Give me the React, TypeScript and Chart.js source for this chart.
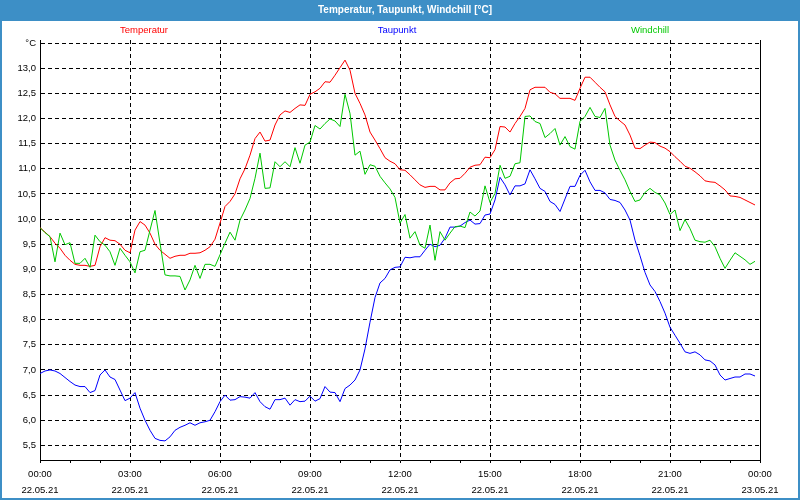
import React, { useEffect, useRef } from 'react';
import { Chart, registerables } from 'chart.js';

Chart.register(...registerables);

// ---- data (10-minute readings, 22.05.21 00:00 .. 23:50) ----
const intervalMinutes = 10;

const temperatur = [
  9.83, 9.74, 9.65, 9.52, 9.42, 9.28, 9.18, 9.10, 9.08, 9.08,
  9.06, 9.08, 9.45, 9.63, 9.58, 9.57, 9.50, 9.38, 9.33, 9.78,
  9.95, 9.88, 9.72, 9.50, 9.38, 9.30, 9.22, 9.26, 9.28, 9.28,
  9.32, 9.32, 9.33, 9.38, 9.45, 9.60, 9.92, 10.25, 10.35, 10.50,
  10.80, 11.00, 11.27, 11.60, 11.73, 11.55, 11.57, 11.87, 12.07, 12.15,
  12.12, 12.20, 12.27, 12.26, 12.48, 12.53, 12.60, 12.73, 12.72, 12.86,
  13.01, 13.16, 12.96, 12.50, 12.30, 12.07, 11.73, 11.57, 11.40, 11.22,
  11.15, 11.10, 10.98, 10.97, 10.88, 10.78, 10.68, 10.63, 10.65, 10.65,
  10.58, 10.58, 10.72, 10.80, 10.81, 10.91, 11.03, 11.07, 11.08, 11.23,
  11.22, 11.38, 11.84, 11.83, 11.73, 11.90, 12.04, 12.20, 12.57, 12.62,
  12.62, 12.62, 12.52, 12.49, 12.40, 12.40, 12.40, 12.36, 12.60, 12.82,
  12.82, 12.72, 12.62, 12.53, 12.27, 12.04, 11.95, 11.87, 11.67, 11.41,
  11.40, 11.47, 11.53, 11.52, 11.45, 11.41, 11.34, 11.24, 11.15, 11.05,
  11.01, 10.94, 10.86, 10.76, 10.74, 10.73, 10.66, 10.58, 10.46, 10.45,
  10.43, 10.38, 10.33, 10.28,
];

const taupunkt = [
  6.93, 6.98, 7.00, 6.98, 6.93, 6.85, 6.77, 6.70, 6.67, 6.67,
  6.55, 6.59, 6.90, 7.00, 6.86, 6.81, 6.60, 6.39, 6.44, 6.55,
  6.24, 6.00, 5.80, 5.64, 5.60, 5.59, 5.67, 5.80, 5.86, 5.90,
  5.95, 5.90, 5.95, 5.97, 6.00, 6.17, 6.37, 6.50, 6.40, 6.41,
  6.47, 6.46, 6.44, 6.55, 6.37, 6.27, 6.22, 6.41, 6.41, 6.44,
  6.30, 6.41, 6.37, 6.38, 6.48, 6.38, 6.43, 6.67, 6.56, 6.55,
  6.37, 6.63, 6.70, 6.80, 7.00, 7.42, 7.95, 8.44, 8.73, 8.82,
  8.99, 9.04, 9.05, 9.24, 9.23, 9.25, 9.25, 9.38, 9.50, 9.45,
  9.48, 9.62, 9.84, 9.84, 9.86, 9.93, 9.98, 9.90, 9.91, 10.08,
  10.10, 10.38, 10.83, 10.68, 10.48, 10.66, 10.66, 10.70, 10.98, 10.80,
  10.61, 10.55, 10.35, 10.29, 10.15, 10.40, 10.65, 10.65, 10.87, 10.97,
  10.74, 10.57, 10.57, 10.52, 10.39, 10.37, 10.33, 10.18, 9.98, 9.58,
  9.27, 8.94, 8.69, 8.56, 8.36, 8.13, 7.85, 7.69, 7.53, 7.36,
  7.33, 7.36, 7.30, 7.20, 7.18, 7.10, 6.90, 6.80, 6.83, 6.86,
  6.86, 6.92, 6.92, 6.88,
];

const windchill = [
  9.83, 9.73, 9.65, 9.15, 9.72, 9.49, 9.53, 9.12, 9.12, 9.22,
  9.04, 9.68, 9.55, 9.48, 9.35, 9.08, 9.42, 9.28, 9.15, 8.93,
  9.35, 9.38, 9.78, 10.17, 9.52, 8.89, 8.87, 8.87, 8.86, 8.59,
  8.79, 9.08, 8.82, 9.10, 9.10, 9.06, 9.29, 9.52, 9.74, 9.58,
  9.98, 10.18, 10.41, 10.81, 11.31, 10.61, 10.62, 11.14, 11.04, 11.14,
  11.04, 11.42, 11.11, 11.47, 11.53, 11.86, 11.79, 11.90, 11.99, 11.95,
  11.84, 12.48, 12.10, 11.27, 11.35, 10.89, 11.08, 11.05, 10.85, 10.72,
  10.60, 10.43, 9.92, 10.09, 9.62, 9.75, 9.48, 9.42, 9.88, 9.18,
  9.75, 9.58, 9.72, 9.85, 9.86, 9.83, 10.14, 10.06, 10.16, 10.66,
  10.33, 10.51, 11.07, 10.81, 10.85, 11.10, 11.12, 12.04, 12.05, 11.94,
  11.90, 11.62, 11.70, 11.80, 11.47, 11.64, 11.44, 11.39, 11.94, 12.04,
  12.22, 12.04, 12.02, 12.20, 11.47, 11.17, 10.97, 10.78, 10.55, 10.35,
  10.38, 10.53, 10.61, 10.53, 10.48, 10.32, 10.09, 10.18, 9.77, 9.99,
  9.81, 9.58, 9.55, 9.54, 9.58, 9.45, 9.22, 9.02, 9.18, 9.33,
  9.26, 9.19, 9.10, 9.16,
];

const seriesLabels = ['Temperatur', 'Taupunkt', 'Windchill'];
const titleText = 'Temperatur, Taupunkt, Windchill [°C]';

const yTickValues = [5.5, 6.0, 6.5, 7.0, 7.5, 8.0, 8.5, 9.0, 9.5, 10.0, 10.5, 11.0, 11.5, 12.0, 12.5, 13.0, 13.5];
const yUnitLabel = '°C';
const xHourTicks = [0, 1, 2, 3, 4, 5, 6, 7, 8, 9, 10, 11, 12, 13, 14, 15, 16, 17, 18, 19, 20, 21, 22, 23, 24];
const xTimeLabels = ['00:00', '03:00', '06:00', '09:00', '12:00', '15:00', '18:00', '21:00', '00:00'];
const xDateLabels = ['22.05.21', '22.05.21', '22.05.21', '22.05.21', '22.05.21', '22.05.21', '22.05.21', '22.05.21', '23.05.21'];

const FONT = '"Liberation Sans", Arial, sans-serif';
const BLUE = '#3d8fc6';
const COLORS = ['#ff0000', '#0000ff', '#00c800'];

export default function App() {
  const ref = useRef<HTMLCanvasElement>(null);

  useEffect(() => {
    const canvas = ref.current;
    if (!canvas) return;

    const toPoints = (arr: number[]) => arr.map((v, i) => ({ x: (i * intervalMinutes) / 60, y: v }));

    const framePlugin = {
      id: 'frame',
      beforeDraw(chart: any) {
        const { ctx, width, height } = chart;
        ctx.save();
        ctx.fillStyle = '#ffffff';
        ctx.fillRect(0, 0, width, height);
        ctx.fillStyle = BLUE;
        ctx.fillRect(0, 0, width, 21);
        ctx.fillRect(0, 0, 2, height);
        ctx.fillRect(width - 2, 0, 2, height);
        ctx.fillRect(0, height - 2, width, 2);
        ctx.fillStyle = '#ffffff';
        ctx.font = `bold 10px ${FONT}`;
        ctx.textAlign = 'center';
        ctx.textBaseline = 'middle';
        ctx.fillText(titleText, 405, 10);
        const legendX = [144, 397, 650];
        ctx.font = `9.5px ${FONT}`;
        chart.data.datasets.forEach((ds: any, i: number) => {
          ctx.fillStyle = ds.borderColor;
          ctx.fillText(ds.label, legendX[i], 30.5);
        });
        ctx.restore();
      },
      afterDraw(chart: any) {
        const { ctx, chartArea } = chart;
        ctx.save();
        ctx.strokeStyle = '#000';
        ctx.lineWidth = 1;
        ctx.beginPath();
        const x = Math.round(chartArea.right) + 0.5;
        ctx.moveTo(x, chartArea.top);
        ctx.lineTo(x, chartArea.bottom);
        ctx.stroke();
        ctx.restore();
      },
    };

    const tickFont = { family: FONT, size: 9.5 };

    const chart = new Chart(canvas, {
      type: 'line',
      data: {
        datasets: [
          { label: seriesLabels[0], data: toPoints(temperatur), borderColor: COLORS[0], order: 3 },
          { label: seriesLabels[1], data: toPoints(taupunkt), borderColor: COLORS[1], order: 2 },
          { label: seriesLabels[2], data: toPoints(windchill), borderColor: COLORS[2], order: 1 },
        ].map((d) => ({ ...d, borderWidth: 1, pointRadius: 0, fill: false, tension: 0 })),
      },
      options: {
        responsive: false,
        animation: false,
        events: [],
        layout: { padding: { top: 40, left: 0, right: 40, bottom: 0 } },
        plugins: { legend: { display: false }, title: { display: false }, tooltip: { enabled: false } },
        scales: {
          x: {
            type: 'linear',
            min: 0,
            max: 24,
            afterBuildTicks: (s: any) => {
              s.ticks = xHourTicks.map((value) => ({ value }));
            },
            afterFit: (s: any) => {
              s.height = 40;
            },
            ticks: {
              autoSkip: false,
              maxRotation: 0,
              minRotation: 0,
              padding: 3,
              color: '#000',
              font: { ...tickFont, lineHeight: 16 / 9.5 },
              callback: (v: any) => {
                const n = Number(v);
                if (n % 3 !== 0) return '';
                const k = n / 3;
                return [xTimeLabels[k], xDateLabels[k]];
              },
            },
            grid: {
              color: (c: any) => {
                const v = c.tick ? c.tick.value : 0;
                return v % 3 === 0 && v > 0 && v < 24 ? '#000' : 'rgba(0,0,0,0)';
              },
              lineWidth: 1,
              drawTicks: true,
              tickLength: 3,
              tickColor: '#000',
              tickWidth: 1,
            },
            border: { display: true, color: '#000', width: 1, dash: [4, 3] },
          },
          y: {
            type: 'linear',
            min: 5.21,
            max: 13.56,
            afterBuildTicks: (s: any) => {
              s.ticks = yTickValues.map((value) => ({ value }));
            },
            afterFit: (s: any) => {
              s.width = 40;
            },
            ticks: {
              padding: 4,
              color: '#000',
              font: tickFont,
              callback: (v: any) => {
                const n = Number(v);
                if (n === yTickValues[yTickValues.length - 1]) return yUnitLabel;
                return n.toFixed(1).replace('.', ',');
              },
            },
            grid: { color: '#000', lineWidth: 1, drawTicks: false },
            border: { display: true, color: '#000', width: 1, dash: [4, 3] },
          },
        },
      },
      plugins: [framePlugin],
    } as any);

    return () => chart.destroy();
  }, []);

  return (
    <div style={{ position: 'fixed', left: 0, top: 0, width: 800, height: 500 }}>
      <canvas ref={ref} width={800} height={500} style={{ display: 'block' }} />
    </div>
  );
}
